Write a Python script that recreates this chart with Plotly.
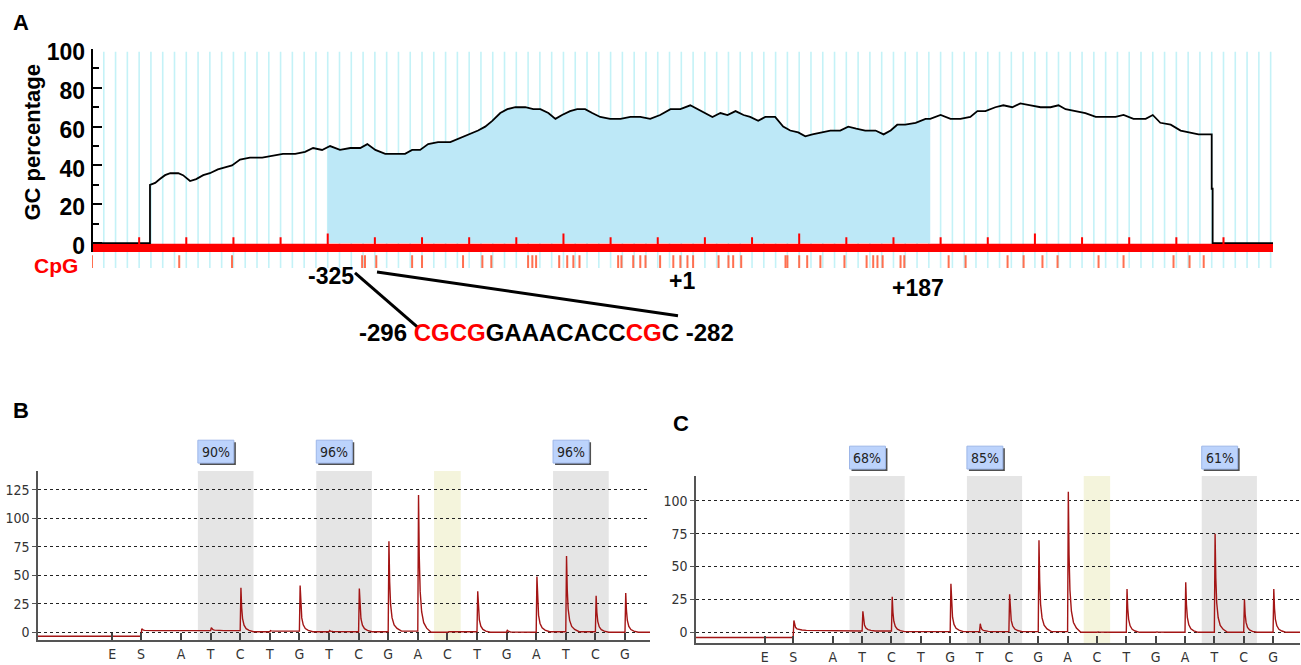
import plotly.graph_objects as go

W, H = 1301, 665
# vertical calibration of the capture (measured): shown_y = 8.8 + 0.982 * layout_y
CAL_OFF, CAL_SCALE = 8.8, 0.982
def px(x): return x / W
def py(y): return 1 - ((y - CAL_OFF) / CAL_SCALE) / H

# ---------------- Panel A data (positions in bp) ----------------
gc_pos = [0, 123, 123, 134, 144, 155, 166, 183, 193, 208, 221,
          236, 250, 267, 282, 297, 314, 335, 361, 382, 405,
          431, 452, 469, 488, 505, 526, 548, 569, 584, 601,
          622, 643, 664, 679, 696, 713, 734, 760, 781, 802,
          819, 834, 849, 866, 881, 898, 919, 936, 951, 968,
          983, 997, 1014, 1029, 1046, 1061, 1078, 1099, 1121, 1142,
          1163, 1184, 1205, 1227, 1248, 1269, 1284, 1301, 1316, 1333,
          1348, 1365, 1382, 1396, 1413, 1428, 1449, 1466, 1481, 1498,
          1513, 1528, 1545, 1566, 1587, 1604, 1621, 1640, 1662, 1679,
          1694, 1708, 1725, 1747, 1768, 1778, 1800, 1821, 1842, 1863,
          1878, 1895, 1916, 1933, 1952, 1969, 1991, 2012, 2033, 2050,
          2065, 2086, 2107, 2129, 2150, 2171, 2188, 2209, 2235, 2250,
          2266, 2288, 2309, 2326, 2347, 2368, 2375, 2375, 2377, 2377, 2505]
gc_val = [0, 0, 30, 31, 33, 35, 36, 36, 35, 32, 33,
          35, 36, 38, 39, 40, 43, 44, 44, 45, 46,
          46, 47, 49, 48, 50, 48, 49, 49, 51, 48,
          46, 46, 46, 48, 48, 51, 52, 52, 54, 56,
          58, 60, 63, 67, 69, 70, 70, 69, 69, 67,
          64, 66, 68, 69, 69, 67, 65, 64, 64, 65,
          65, 64, 66, 69, 69, 71, 69, 67, 65, 67,
          66, 68, 66, 65, 63, 65, 65, 60, 58, 57,
          55, 56, 57, 58, 58, 60, 59, 58, 58, 56,
          58, 61, 61, 62, 64, 64, 66, 64, 64, 65,
          68, 68, 70, 71, 70, 72, 71, 70, 70, 71,
          69, 68, 67, 65, 65, 65, 66, 64, 64, 66,
          62, 61, 58, 57, 56, 56, 56, 28, 28, 0, 0]
island_start, island_end = 500, 1778
cpg_pos = [0, 185, 297, 573, 579, 603, 679, 700, 787, 828, 847, 925, 934, 942,
           991, 1008, 1021, 1034, 1116, 1123, 1148, 1163, 1174, 1205, 1233, 1248,
           1263, 1275, 1329, 1350, 1360, 1377, 1471, 1475, 1500, 1517, 1545, 1596,
           1643, 1657, 1666, 1677, 1715, 1723, 1817, 1853, 1942, 1976, 2016, 2048,
           2135, 2188, 2294, 2328, 2358]
seq_len = 2500
grid_step = 25
scale_step = 100
scale_major = 500
gc_ticks = [0, 20, 40, 60, 80, 100]
gc_minor = [10, 30, 50, 70, 90]

# ---------------- Panels B / C data ----------------
disp_letters = ['E', 'S', 'A', 'T', 'C', 'T', 'G', 'T', 'C', 'G', 'A', 'C', 'T', 'G', 'A', 'T', 'C', 'G']
disp_pos = [0.68, 1.65, 3, 4, 5, 6, 7, 8, 9, 10, 11, 12, 13, 14, 15, 16, 17, 18]
peaks_b = [None, 3, 1.5, 4, 39, 1.5, 41, 1.5, 38.5, 80, 120.5, 0.5, 36, 2, 49, 67, 32, 34.5]
base_b = [-3.5, 1.5, 1.5, 1.5, 0.5, 1.0, 0.5, 0.5, 0.5, 1.0, 0.0, 0.5, 0.0, 0.0, 0.5, 0.5, 0.0, 0.0]
peaks_c = [None, 9, 1, 16, 27, 0.5, 37, 6.5, 29, 70, 107, 0.5, 33, 0.5, 38, 75, 25, 33]
base_c = [-4.0, 1.5, 1.0, 1.0, 0.5, 0.5, 0.5, 0.5, 0.5, 0.5, 0.0, 0.0, 0.0, 0.0, 0.0, 0.0, 0.0, 0.0]
cpg_pairs = [(4, 5), (8, 9), (16, 17)]
control_pos = 12
meth_b = ['90%', '96%', '96%']
meth_c = ['68%', '85%', '61%']
ticks_b = [0, 25, 50, 75, 100, 125]
ticks_c = [0, 25, 50, 75, 100]

# ---------------- styles ----------------
BOLD = "Liberation Sans, Arial, sans-serif"
NARROW = "DejaVu Sans Condensed, Liberation Sans Narrow, Arial Narrow, sans-serif"
PEAK_DX = [0.025, 0.05, 0.08, 0.13, 0.2, 0.3, 0.45]
PEAK_FRAC = [1.0, 0.55, 0.3, 0.15, 0.07, 0.03, 0.0]
PYRO_COLOR = '#a31515'

fig = go.Figure()

# ---- Panel A ----
cx, cy = [], []
for k in range(grid_step, seq_len + 1, grid_step):
    cx += [k, k, None]
    cy += [-12.8, 98.6, None]
fig.add_trace(go.Scatter(x=cx, y=cy, mode='lines', line=dict(color='#c4f2f7', width=1.6),
                         hoverinfo='skip', xaxis='x', yaxis='y'))
fig.add_trace(go.Scatter(x=[0, seq_len + 5, seq_len + 5, 0, 0], y=[-0.4, -0.4, -4.6, -4.6, -0.4],
                         fill='toself', fillcolor='#ff0000', mode='lines', line=dict(width=0, color='#ff0000'),
                         hoverinfo='skip', xaxis='x', yaxis='y'))

def val_at(x):
    for i in range(len(gc_pos) - 1):
        a, b = gc_pos[i], gc_pos[i + 1]
        if a <= x <= b and b > a:
            return gc_val[i] + (gc_val[i + 1] - gc_val[i]) * (x - a) / (b - a)
    return gc_val[-1]

fx = [island_start] + [p for p in gc_pos if island_start < p < island_end] + [island_end]
fy = [val_at(island_start)] + [g for p, g in zip(gc_pos, gc_val) if island_start < p < island_end] + [val_at(island_end)]
fig.add_trace(go.Scatter(x=fx, y=fy, mode='lines', line=dict(width=0), fill='tozeroy',
                         fillcolor='#bde8f7', hoverinfo='skip', xaxis='x', yaxis='y'))
fig.add_trace(go.Scatter(x=gc_pos, y=gc_val, mode='lines', line=dict(color='black', width=1.8),
                         xaxis='x', yaxis='y'))
tx, ty = [], []
for k in range(scale_step, seq_len, scale_step):
    tx += [k, k, None]
    ty += [-0.5, 5.0 if k % scale_major == 0 else 3.0, None]
fig.add_trace(go.Scatter(x=tx, y=ty, mode='lines', line=dict(color='#ff0000', width=2),
                         hoverinfo='skip', xaxis='x', yaxis='y'))
gx, gy = [], []
for p in cpg_pos:
    gx += [p, p, None]
    gy += [-6.2, -12.8, None]
fig.add_trace(go.Scatter(x=gx, y=gy, mode='lines', line=dict(color='#ff7050', width=2),
                         hoverinfo='skip', xaxis='x', yaxis='y'))

# ---- Panels B / C ----
def pyro(pos, peaks, base, x0, x1):
    xs, ys = [x0], [base[0]]
    prev = base[0]
    for p, h, b in zip(pos, peaks, base):
        xs.append(p); ys.append(prev)
        if h is not None:
            amp = h - b
            for dx, f in zip(PEAK_DX, PEAK_FRAC):
                xs.append(p + dx); ys.append(b + amp * f)
        prev = b
    xs.append(x1); ys.append(prev)
    return xs, ys

rb = [-1.831, 18.845]
rc = [-1.66, 18.918]
xb, yb = pyro(disp_pos, peaks_b, base_b, rb[0], rb[1])
xc, yc = pyro(disp_pos, peaks_c, base_c, rc[0], rc[1])
fig.add_trace(go.Scatter(x=xb, y=yb, mode='lines', line=dict(color=PYRO_COLOR, width=1.4),
                         xaxis='x2', yaxis='y2'))
fig.add_trace(go.Scatter(x=xc, y=yc, mode='lines', line=dict(color=PYRO_COLOR, width=1.4),
                         xaxis='x3', yaxis='y3'))

shapes = []
annotations = []

shapes.append(dict(type='line', xref='paper', yref='paper', x0=px(92), x1=px(92), y0=py(252), y1=py(48),
                   line=dict(color='black', width=2)))
shapes.append(dict(type='line', xref='paper', yref='paper', x0=px(355), y0=py(273), x1=px(417), y1=py(327),
                   line=dict(color='black', width=3)))
shapes.append(dict(type='line', xref='paper', yref='paper', x0=px(377), y0=py(272), x1=px(678), y1=py(316),
                   line=dict(color='black', width=3)))

def add_pyro_decor(xr, yr, meth, box_y_top, box_y_bot, ppu):
    for (a, b), m in zip(cpg_pairs, meth):
        x0, x1 = a - 0.43, b + 0.45
        shapes.append(dict(type='rect', xref=xr, yref=yr + ' domain', x0=x0, x1=x1, y0=0, y1=1,
                           fillcolor='#e5e5e5', line=dict(width=0), layer='below'))
        w = 36 / ppu
        sh = 2 / ppu
        shapes.append(dict(type='rect', xref=xr, yref='paper', x0=x0 + sh, x1=x0 + w + sh,
                           y0=py(box_y_bot + 2), y1=py(box_y_top + 2),
                           fillcolor='#505050', line=dict(width=0)))
        shapes.append(dict(type='rect', xref=xr, yref='paper', x0=x0, x1=x0 + w,
                           y0=py(box_y_bot), y1=py(box_y_top),
                           fillcolor='#bcd3fc', line=dict(width=1, color='#9db6e8')))
        annotations.append(dict(xref=xr, yref='paper', x=x0 + w / 2, y=py((box_y_top + box_y_bot) / 2),
                                text=m, showarrow=False, font=dict(family=NARROW, size=14, color='#222'),
                                xanchor='center', yanchor='middle'))
    shapes.append(dict(type='rect', xref=xr, yref=yr + ' domain', x0=control_pos - 0.45, x1=control_pos + 0.45,
                       y0=0, y1=1, fillcolor='#f4f4dc', line=dict(width=0), layer='below'))

add_pyro_decor('x2', 'y2', meth_b, 441, 464, 29.6)
add_pyro_decor('x3', 'y3', meth_c, 447, 470, 29.4)

def txt(x, y, s, size=23, color='black', **kw):
    d = dict(xref='paper', yref='paper', x=px(x), y=py(y), text=s, showarrow=False,
             font=dict(family=BOLD, size=size, color=color), xanchor='center', yanchor='middle')
    d.update(kw)
    annotations.append(d)

txt(21, 21, '<b>A</b>', 22)
txt(21, 411, '<b>B</b>', 22)
txt(681, 424, '<b>C</b>', 22)
txt(33, 142, '<b>GC percentage</b>', 22, textangle=-90)
txt(56, 265, '<b>CpG</b>', 21, color='#ff0000')
txt(331, 276, '<b>-325</b>', 23)
txt(682, 281, '<b>+1</b>', 23)
txt(918, 288, '<b>+187</b>', 23)
txt(546, 333, "<b>-296 <span style='color:#ff0000'>CGCG</span>GAAACACC"
              "<span style='color:#ff0000'>CG</span>C -282</b>", 24)

ax_common = dict(showgrid=True, gridcolor='#222', griddash='dot', gridwidth=1, zeroline=False,
                 showline=True, linecolor='#555', linewidth=1.5, ticks='outside', ticklen=4,
                 tickcolor='#555', tickfont=dict(family=NARROW, size=14, color='#333'))
x_common = dict(showgrid=False, zeroline=False, showline=True, linecolor='#555', linewidth=2,
                tickmode='array', tickvals=disp_pos, ticktext=disp_letters, ticks='inside', ticklen=7,
                tickcolor='#444', tickwidth=1.5, tickfont=dict(family=NARROW, size=14, color='#333'))

fig.update_layout(
    width=W, height=H, autosize=False, margin=dict(l=0, r=0, t=0, b=0),
    paper_bgcolor='white', plot_bgcolor='rgba(0,0,0,0)', showlegend=False,
    xaxis=dict(domain=[px(92), px(1273)], range=[0, seq_len + 5], visible=False, anchor='y'),
    yaxis=dict(domain=[py(269.3), py(48)], range=[-13.5, 100], anchor='x', showgrid=False, zeroline=False,
               showline=False, tickmode='array', tickvals=gc_ticks, ticks='inside', ticklen=10, tickwidth=2,
               tickcolor='black', ticklabelstandoff=6, ticklabelshift=3,
               tickfont=dict(family=BOLD, size=23, color='black', weight='bold'),
               minor=dict(tickvals=gc_minor, ticks='inside', ticklen=7, tickwidth=2, tickcolor='black')),
    xaxis2=dict(domain=[px(38), px(650)], range=rb, anchor='y2', **x_common),
    yaxis2=dict(domain=[py(642), py(472)], range=[-7.0, 141.6], anchor='x2', tickmode='array',
                tickvals=ticks_b, **ax_common),
    xaxis3=dict(domain=[px(696), px(1300)], range=rc, anchor='y3', **x_common),
    yaxis3=dict(domain=[py(645), py(477)], range=[-8.33, 118.9], anchor='x3', tickmode='array',
                tickvals=ticks_c, **ax_common),
    shapes=shapes, annotations=annotations,
)

fig.write_html("out.html", config={'displayModeBar': False},
               post_script="document.body.style.margin='0';document.body.style.overflow='hidden';"
                           "var d=document.getElementById('{plot_id}');d.style.position='fixed';"
                           "d.style.left='0px';d.style.top='0px';")
